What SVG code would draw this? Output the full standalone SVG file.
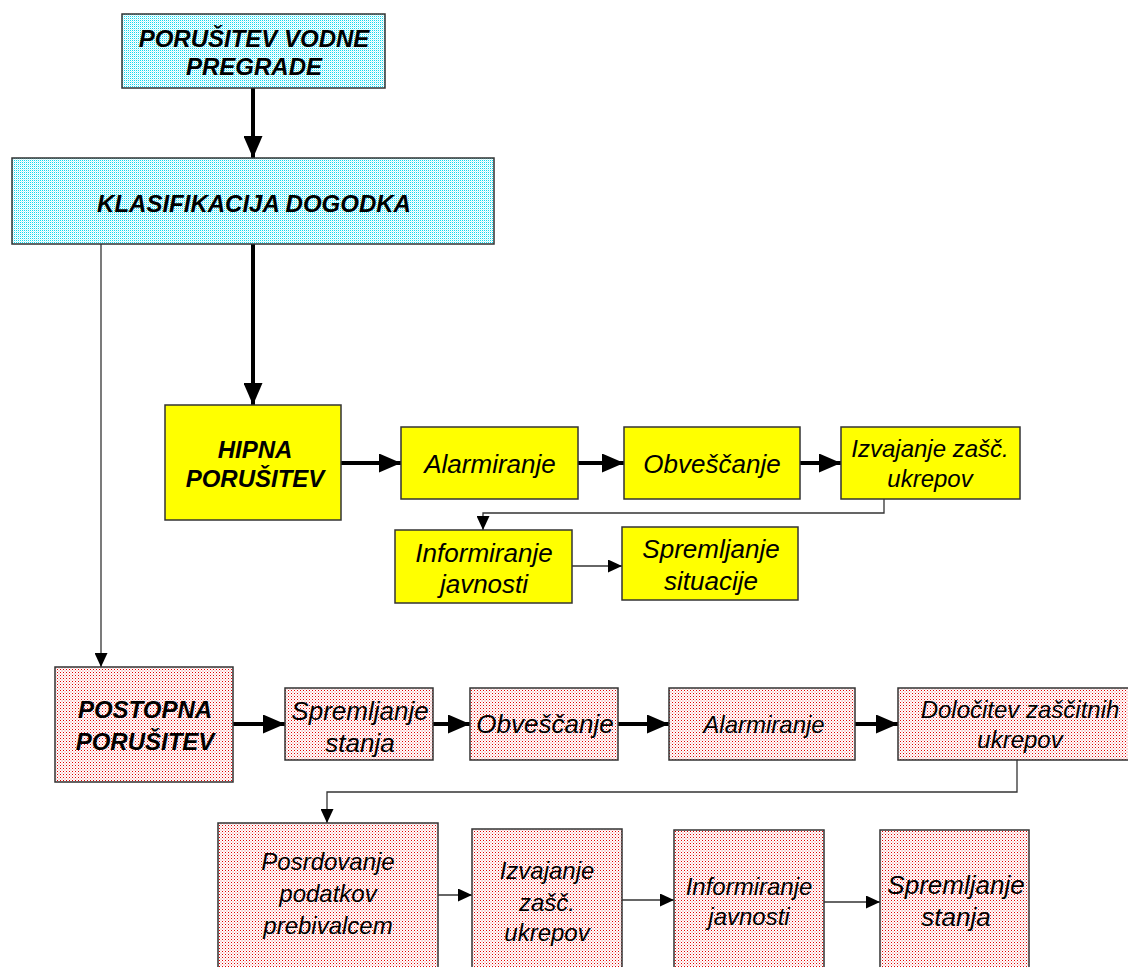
<svg xmlns="http://www.w3.org/2000/svg" width="1128" height="967" viewBox="0 0 1128 967">
<style>
.box{stroke:#333;stroke-width:1.5}
.cy{fill:url(#cyanDots)}
.ye{fill:#ffff00}
.rd{fill:url(#redDots)}
text{font-family:"Liberation Sans",Arial,sans-serif;font-style:italic;fill:#000;text-anchor:middle}
.b{font-weight:bold;font-size:24px}
.n{font-size:26px}
.thick{stroke:#000;stroke-width:4;fill:none}
.thin{stroke:#333;stroke-width:1.3;fill:none}
</style>
<defs>
<pattern id="cyanDots" width="2" height="2" patternUnits="userSpaceOnUse">
<rect width="2" height="2" fill="#ffffff"/>
<rect x="0" y="0" width="1" height="1" fill="#10d8ee"/>
<rect x="1" y="1" width="1" height="1" fill="#c8f8fc"/>
</pattern>
<pattern id="redDots" width="3" height="3" patternUnits="userSpaceOnUse">
<rect width="3" height="3" fill="#ffffff"/>
<rect x="0" y="0" width="1" height="1" fill="#e00000"/>
<rect x="1.5" y="1.5" width="1" height="1" fill="#f07070"/>
</pattern>
<marker id="ah" markerWidth="22" markerHeight="19" refX="22" refY="9.5" orient="auto" markerUnits="userSpaceOnUse">
<path d="M0,0 L22,9.5 L0,19 Z" fill="#000"/>
</marker>
<marker id="as" markerWidth="14" markerHeight="13" refX="14" refY="6.5" orient="auto" markerUnits="userSpaceOnUse">
<path d="M0,0 L14,6.5 L0,13 Z" fill="#000"/>
</marker>
</defs>
<rect width="1128" height="967" fill="#fff"/>

<g id="connectors">
<path class="thick" d="M253,88 V158" marker-end="url(#ah)"/>
<path class="thick" d="M253,244 V405" marker-end="url(#ah)"/>
<path class="thick" d="M341,463 H401" marker-end="url(#ah)"/>
<path class="thick" d="M578,463 H624" marker-end="url(#ah)"/>
<path class="thick" d="M800,463 H841" marker-end="url(#ah)"/>
<path class="thin" d="M884,499 V513 H483 V530" marker-end="url(#as)"/>
<path class="thin" d="M572,566 H622" marker-end="url(#as)"/>
<path class="thin" d="M101,244 V667" marker-end="url(#as)"/>
<path class="thick" d="M233,724 H285" marker-end="url(#ah)"/>
<path class="thick" d="M433,724 H470" marker-end="url(#ah)"/>
<path class="thick" d="M618,724 H669" marker-end="url(#ah)"/>
<path class="thick" d="M855,724 H898" marker-end="url(#ah)"/>
<path class="thin" d="M1017,760 V792 H327 V823" marker-end="url(#as)"/>
<path class="thin" d="M438,895 H472" marker-end="url(#as)"/>
<path class="thin" d="M622,900 H674" marker-end="url(#as)"/>
<path class="thin" d="M824,902 H880" marker-end="url(#as)"/>
</g>

<g id="n1"><rect class="box cy" x="122" y="14" width="263" height="74"/>
<text class="b" x="254" y="47">PORUŠITEV VODNE</text><text class="b" x="254" y="75">PREGRADE</text></g>

<g id="n2"><rect class="box cy" x="12" y="158" width="482" height="86"/>
<text class="b" x="254" y="212">KLASIFIKACIJA DOGODKA</text></g>

<g id="n3"><rect class="box ye" x="165" y="405" width="176" height="115"/>
<text class="b" x="255" y="458">HIPNA</text><text class="b" x="255" y="487">PORUŠITEV</text></g>

<g id="n4"><rect class="box ye" x="401" y="427" width="177" height="72"/>
<text class="n" x="490" y="473">Alarmiranje</text></g>

<g id="n5"><rect class="box ye" x="624" y="427" width="176" height="72"/>
<text class="n" x="712" y="473">Obveščanje</text></g>

<g id="n6"><rect class="box ye" x="841" y="427" width="179" height="72"/>
<text class="n" x="930" y="457" style="font-size:24px">Izvajanje zašč.</text><text class="n" x="930" y="487" style="font-size:24px">ukrepov</text></g>

<g id="n7"><rect class="box ye" x="395" y="530" width="177" height="73"/>
<text class="n" x="484" y="562">Informiranje</text><text class="n" x="484" y="593">javnosti</text></g>

<g id="n8"><rect class="box ye" x="622" y="527" width="176" height="73"/>
<text class="n" x="711" y="558">Spremljanje</text><text class="n" x="711" y="590">situacije</text></g>

<g id="n9"><rect class="box rd" x="55" y="667" width="178" height="115"/>
<text class="b" x="145" y="718">POSTOPNA</text><text class="b" x="145" y="750">PORUŠITEV</text></g>

<g id="n10"><rect class="box rd" x="285" y="688" width="148" height="72"/>
<text class="n" x="360" y="720">Spremljanje</text><text class="n" x="360" y="752">stanja</text></g>

<g id="n11"><rect class="box rd" x="470" y="688" width="148" height="72"/>
<text class="n" x="545" y="733">Obveščanje</text></g>

<g id="n12"><rect class="box rd" x="669" y="688" width="186" height="72"/>
<text class="n" x="764" y="733" style="font-size:24px">Alarmiranje</text></g>

<g id="n13"><rect class="box rd" x="898" y="688" width="235" height="72"/>
<text class="n" x="1020" y="718" style="font-size:24px">Določitev zaščitnih</text><text class="n" x="1020" y="748" style="font-size:24px">ukrepov</text></g>

<g id="n14"><rect class="box rd" x="218" y="823" width="220" height="150"/>
<text class="n" x="328" y="870" style="font-size:24px">Posrdovanje</text><text class="n" x="328" y="902" style="font-size:24px">podatkov</text><text class="n" x="328" y="934" style="font-size:24px">prebivalcem</text></g>

<g id="n15"><rect class="box rd" x="472" y="829" width="150" height="144"/>
<text class="n" x="547" y="879" style="font-size:24px">Izvajanje</text><text class="n" x="547" y="911" style="font-size:24px">zašč.</text><text class="n" x="547" y="941" style="font-size:24px">ukrepov</text></g>

<g id="n16"><rect class="box rd" x="674" y="830" width="150" height="143"/>
<text class="n" x="749" y="895" style="font-size:24px">Informiranje</text><text class="n" x="749" y="925" style="font-size:24px">javnosti</text></g>

<g id="n17"><rect class="box rd" x="880" y="830" width="149" height="143"/>
<text class="n" x="956" y="894">Spremljanje</text><text class="n" x="956" y="926">stanja</text></g>
</svg>
